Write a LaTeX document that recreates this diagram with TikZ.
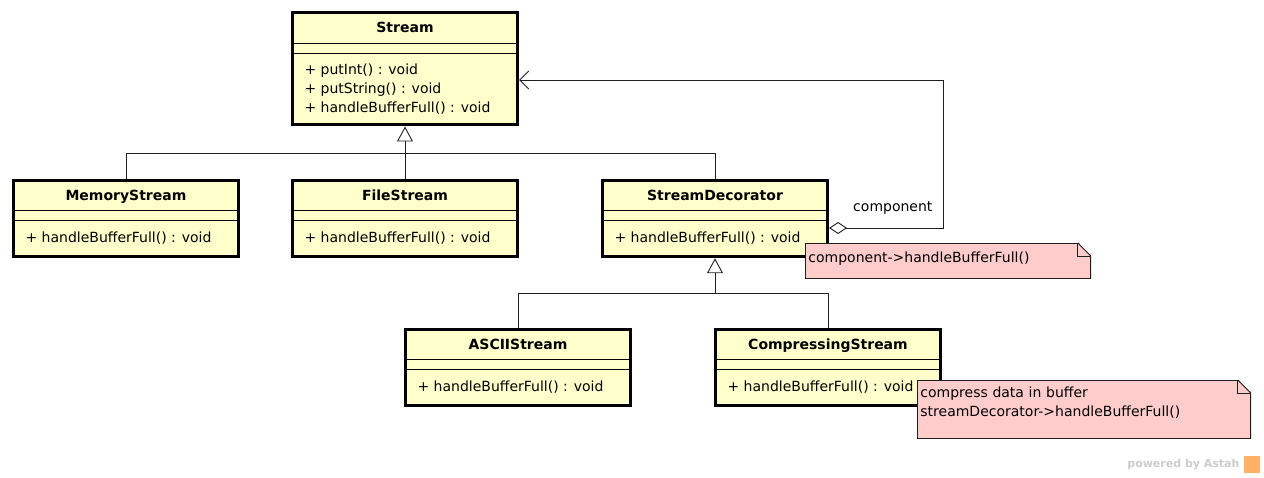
\documentclass[tikz,border=0pt]{standalone}
\usepackage{fontspec}
\setmainfont{DejaVu Sans}
\usepackage{tikz}
\usetikzlibrary{arrows.meta,calc,shapes.multipart}

\definecolor{classfill}{RGB}{255,255,204}
\definecolor{notefill}{RGB}{255,204,204}
\definecolor{linecol}{RGB}{30,30,30}

\begin{document}
\begin{tikzpicture}[
    x = 1pt, y = -1pt,
    font = \fontsize{14}{19}\selectfont
  ]
  \tikzstyle{class} = [
    draw = black, rectangle split,
    rectangle split parts       = 3,
    rectangle split draw splits = false,
    rectangle split part align  = {center, left, left},
    fill           = classfill,
    line width     = 3pt,
    inner xsep     = 12pt,
    inner ysep     = 0pt,
    minimum width  = 225pt
  ]
  \tikzstyle{note}    = [
    draw = linecol, fill = notefill,
    rectangle, anchor = north west,
    align = left, line width = 0.8pt,
    inner xsep = 3pt, inner ysep = 0pt
  ]
  \tikzstyle{split}     = [draw = black, line width = 0.9pt]
  \tikzstyle{line}      = [draw = linecol, line width = 0.9pt]
  \tikzstyle{inherit}   = [line, -{Triangle[open, width = 16pt, length = 15pt]}]
  \tikzstyle{aggregate} = [line, {Diamond[open, width = 12pt, length = 18pt]}-{Straight Barb[width = 18pt, length = 9pt]}]

  \useasboundingbox (0, 0) rectangle (1264, 478);

  % classes
  \node [class] at (405, 69) (stream) {\rule[-9pt]{0pt}{27.5pt}\textbf{Stream}\nodepart{two}\rule{0pt}{7pt}\nodepart{three}%
    \begin{tabular}{@{}l@{}}\rule{0pt}{19.1pt}+ putInt() : void\\+ putString() : void\\\rule[-11.4pt]{0pt}{11.4pt}+ handleBufferFull() : void\end{tabular}};
  \node [class] at (126, 218.5) (memory)    {\rule[-9pt]{0pt}{27.5pt}\textbf{MemoryStream}\nodepart{two}\rule{0pt}{7pt}\nodepart{three}\rule[-12.4pt]{0pt}{33pt}+ handleBufferFull() : void};
  \node [class] at (405, 218.5) (file)      {\rule[-9pt]{0pt}{27.5pt}\textbf{FileStream}\nodepart{two}\rule{0pt}{7pt}\nodepart{three}\rule[-12.4pt]{0pt}{33pt}+ handleBufferFull() : void};
  \node [class] at (715, 218.5) (decorator) {\rule[-9pt]{0pt}{27.5pt}\textbf{StreamDecorator}\nodepart{two}\rule{0pt}{7pt}\nodepart{three}\rule[-12.4pt]{0pt}{33pt}+ handleBufferFull() : void};
  \node [class] at (518, 367.5) (ascii)     {\rule[-9pt]{0pt}{27.5pt}\textbf{ASCIIStream}\nodepart{two}\rule{0pt}{7pt}\nodepart{three}\rule[-12.4pt]{0pt}{33pt}+ handleBufferFull() : void};
  \node [class] at (828, 367.5) (compress)  {\rule[-9pt]{0pt}{27.5pt}\textbf{CompressingStream}\nodepart{two}\rule{0pt}{7pt}\nodepart{three}\rule[-12.4pt]{0pt}{33pt}+ handleBufferFull() : void};

  \foreach \cls in {stream, memory, file, decorator, ascii, compress} {
    \path [split] (\cls.text split west) -- (\cls.text split east);
    \path [split] (\cls.two split west)  -- (\cls.two split east);
  }

  % generalization
  \coordinate (streambus) at (405, 153);
  \coordinate (decobus)   at (715, 293);
  \path [inherit] (streambus) -- (stream);
  \path [line]    (memory)    |- (streambus);
  \path [line]    (file)      -- (streambus);
  \path [line]    (decorator) |- (streambus);
  \path [inherit] (decobus)   -- (decorator);
  \path [line]    (ascii)     |- (decobus);
  \path [line]    (compress)  |- (decobus);

  % aggregation
  \coordinate (compcorner) at (943, 80);
  \path [aggregate] ([yshift = -9.5pt]decorator.east) -| node [pos = 0.28, above = 10pt] {component} (compcorner) -- ([yshift = -11pt]stream.east);

  % notes
  \node [note, minimum width = 285pt, minimum height = 35pt, text width = 279pt,
         text height = 13pt, text depth = 10pt] at (805, 243) (note1) {component->handleBufferFull()};
  \node [note, minimum width = 333pt, minimum height = 58pt, text width = 327pt,
         text height = 13pt, text depth = 37pt] at (917, 380) (note2) {compress data in buffer\\streamDecorator->handleBufferFull()};
  \foreach \nt in {note1, note2} {
    \fill [white] ([xshift = -13pt, yshift = 1pt]\nt.north east) -- ([xshift = 1pt, yshift = 1pt]\nt.north east) -- ([xshift = 1pt, yshift = -13pt]\nt.north east) -- cycle;
    \path [line, line width = 0.8pt] ([xshift = -13pt]\nt.north east) -- ([yshift = -13pt]\nt.north east) -- (\nt.south east);
    \path [line, line width = 0.8pt] ([xshift = -13pt]\nt.north east) |- ([yshift = -13pt]\nt.north east);
  }

  % watermark
  \node [anchor = east, text = gray!40, font = \fontsize{11}{13}\selectfont\bfseries] at (1243, 465) (powered) {powered by Astah};
  \fill [orange!60] ([xshift = 1pt]powered.east |- 0, 456) rectangle (1260, 473);
\end{tikzpicture}
\end{document}
